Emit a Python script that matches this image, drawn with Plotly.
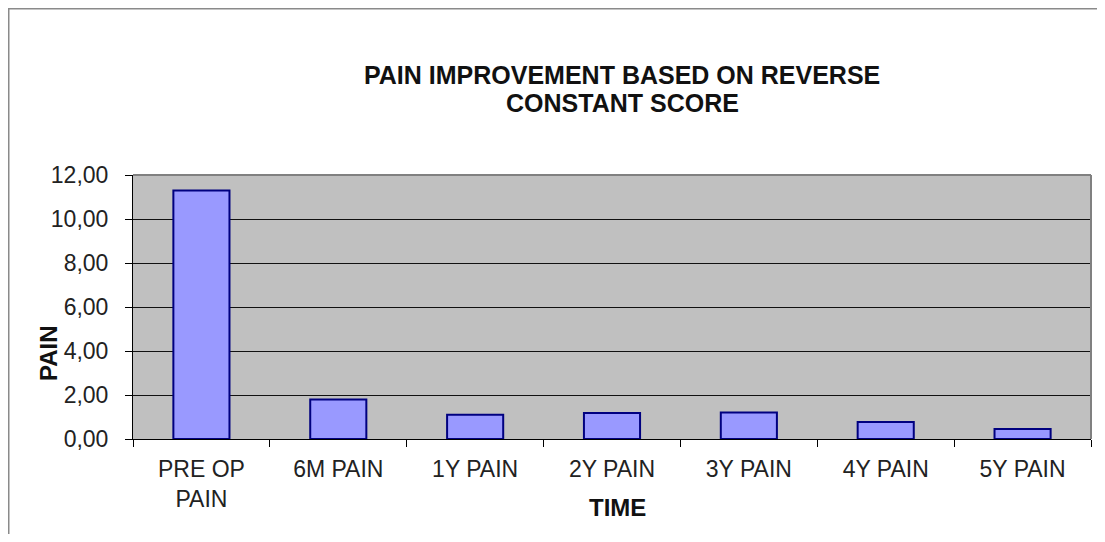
import plotly.graph_objects as go

# Data
categories = ['PRE OP<br>PAIN', '6M PAIN', '1Y PAIN', '2Y PAIN', '3Y PAIN', '4Y PAIN', '5Y PAIN']
pain_values = [11.3, 1.8, 1.1, 1.18, 1.2, 0.77, 0.45]
y_ticks = [0, 2, 4, 6, 8, 10, 12]
title_lines = ['PAIN IMPROVEMENT BASED ON REVERSE', 'CONSTANT SCORE']

# page body has an 8px margin, so the figure starts at (8, 8) of the window
OFF = 8
W, H = 1089, 526
L, T = 133 - OFF, 175 - OFF
R = W - (1091 - OFF)
B = H - (439 - OFF)
plot_w = W - L - R
plot_h = H - T - B


def px_x(x):
	# window pixel x -> paper coordinate
	return (x - OFF - L) / plot_w


def px_y(y):
	# window pixel y -> paper coordinate
	return (H - B - (y - OFF)) / plot_h


fig = go.Figure()

fig.add_trace(go.Bar(
	x=categories,
	y=pain_values,
	width=0.41,
	marker={'color': '#9999FF', 'line': {'color': '#000080', 'width': 2}},
	showlegend=False,
))

fig.update_xaxes(
	showgrid=False,
	showline=True, linecolor='#000000', linewidth=1,
	ticks='outside', ticklen=7, tickcolor='#000000',
	tickson='boundaries',
	ticklabelstandoff=9,
	tickfont={'size': 23, 'color': '#222222'},
)

fig.update_yaxes(
	range=[0, 12],
	tickvals=y_ticks,
	tickformat='.2f',
	showgrid=True, gridcolor='#111111', gridwidth=1,
	showline=True, linecolor='#000000', linewidth=1,
	ticks='outside', ticklen=7, tickcolor='#000000',
	ticklabelstandoff=12,
	tickfont={'size': 23, 'color': '#222222'},
	zeroline=False,
)

# plot area frame, top and right
fig.add_shape(type='line', xref='paper', yref='paper', x0=0, x1=1, y0=1, y1=1,
			  line={'color': '#808080', 'width': 2})
fig.add_shape(type='line', xref='paper', yref='paper', x0=1, x1=1, y0=0, y1=1,
			  line={'color': '#808080', 'width': 2})

# title, one annotation per line
for text, yy in zip(title_lines, [75, 103]):
	fig.add_annotation(
		text=f'<b>{text}</b>',
		xref='paper', yref='paper',
		x=px_x(622), y=px_y(yy),
		showarrow=False, font={'size': 25, 'color': '#111111'},
		xanchor='center', yanchor='middle',
	)

fig.add_annotation(
	text='<b>TIME</b>', xref='paper', yref='paper',
	x=px_x(617), y=px_y(507),
	showarrow=False, font={'size': 24, 'color': '#111111'},
	xanchor='center', yanchor='middle',
)
fig.add_annotation(
	text='<b>PAIN</b>', xref='paper', yref='paper',
	x=px_x(48), y=px_y(353),
	showarrow=False, font={'size': 24, 'color': '#111111'},
	textangle=-90, xanchor='center', yanchor='middle',
)

# chart area border, left and top
fig.add_shape(
	type='line', xref='paper', yref='paper',
	x0=px_x(8), x1=px_x(8), y0=px_y(542), y1=px_y(8),
	line={'color': '#8a8a8a', 'width': 3},
)
fig.add_shape(
	type='line', xref='paper', yref='paper',
	x0=px_x(8), x1=px_x(1097), y0=px_y(8.5), y1=px_y(8.5),
	line={'color': '#8a8a8a', 'width': 2},
)

fig.update_layout(
	width=W, height=H,
	separators=',.',
	paper_bgcolor='white',
	plot_bgcolor='#C0C0C0',
	font={'family': 'Liberation Sans, Arial, sans-serif'},
	margin=dict(l=L, r=R, t=T, b=B),
)

fig.write_html('out.html')
